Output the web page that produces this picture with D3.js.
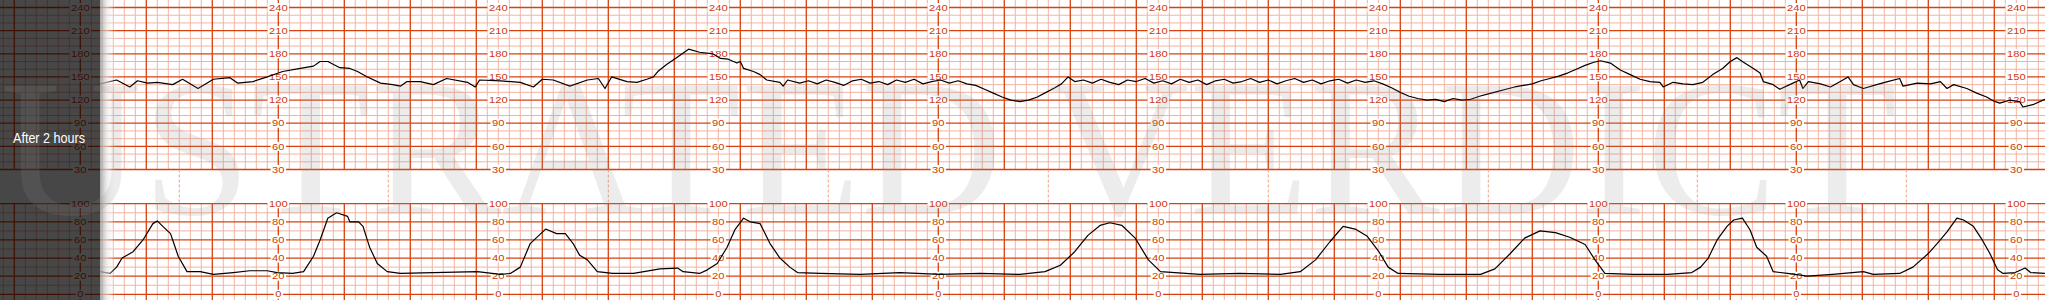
<!DOCTYPE html>
<html>
<head>
<meta charset="utf-8">
<script src="https://cdn.jsdelivr.net/npm/d3@7"></script>
<style>
  html, body { margin: 0; padding: 0; background: #fff; overflow: hidden; }
  svg { display: block; }
</style>
</head>
<body>
<div id="chart"></div>
<script>
// seconds along the strip where the scale labels are printed
var labelSec = [60, 240, 440, 640, 840, 1040, 1240, 1440, 1620, 1820];
var hrTicks = [240, 210, 180, 150, 120, 90, 60, 30];
var ucTicks = [100, 80, 60, 40, 20, 0];

// fetal heart rate (bpm)
var fhrSec = [78, 93, 105, 112, 121, 130, 144, 153, 167, 181, 196, 203, 217, 230, 244, 260, 272, 278, 285, 296, 305, 312, 321, 333, 344,
  351, 357, 369, 381, 393, 412, 419, 423, 442, 460, 472, 480, 490, 505, 521, 531, 537, 543, 557, 566, 575, 581, 585, 593, 601, 613, 623,
  635, 642, 649, 657, 660, 663, 672, 678, 684, 696, 699, 703, 714,
  722, 730, 738, 746, 754, 762, 770, 778, 786, 794, 802, 810, 818, 826, 834, 842, 850, 858, 866, 874, 882, 890, 898, 906, 914, 922,
  930, 938, 946, 952, 958, 964, 972, 980, 988, 996, 1004, 1012, 1020, 1028, 1036, 1044, 1052, 1060, 1068, 1076, 1084, 1092, 1100,
  1108, 1116, 1124, 1132, 1140, 1148, 1156, 1164, 1172, 1180, 1188, 1196, 1204, 1212, 1220, 1228, 1236, 1244, 1252, 1260, 1268, 1276,
  1284, 1292, 1300, 1308, 1316, 1324, 1332, 1340, 1348, 1356, 1364, 1372, 1380, 1388, 1396, 1404, 1412, 1420, 1428, 1436, 1442,
  1451, 1460, 1469, 1478, 1487, 1496, 1499, 1508, 1517, 1526, 1535, 1544, 1553, 1560, 1566, 1572, 1581, 1587, 1590,
  1599, 1605, 1614, 1623, 1626, 1631, 1642, 1651, 1660, 1667, 1672, 1681, 1693, 1703, 1714, 1717, 1730, 1742, 1751, 1757, 1763, 1775,
  1784, 1793, 1799, 1805, 1814, 1823, 1826, 1835, 1846];
var fhrBpm = [141, 146, 137, 145, 142, 143, 140, 147, 135, 147, 149, 142, 144, 150, 157, 161, 164, 170, 170, 162, 161, 157, 150, 142, 140,
  138, 144, 144, 140, 148, 143, 137, 146, 145, 143, 137, 147, 146, 138, 146, 148, 135, 150, 144, 143, 147, 150, 157, 166, 174, 186, 182,
  180, 174, 173, 168, 170, 161, 157, 153, 146, 143, 138, 146, 142,
  145, 141, 146, 143, 139, 145, 147, 142, 144, 140, 146, 143, 147, 141, 144, 146, 142, 145, 141, 139, 134, 129, 124, 120, 118, 120,
  124, 130, 136, 141, 150, 144, 146, 142, 147, 143, 140, 146, 144, 148, 142, 145, 141, 147, 143, 146, 140, 145, 147,
  142, 144, 148, 143, 146, 141, 145, 148, 143, 146, 141, 145, 147, 142, 146, 143, 145, 141, 136, 130, 125, 122,
  120, 121, 118, 122, 120, 121, 125, 128, 131, 134, 137, 139, 141, 145, 148, 151, 155, 160, 165, 169, 171,
  168, 159, 153, 147, 144, 143, 137, 143, 141, 140, 143, 153, 161, 170, 175, 169, 161, 155, 144,
  140, 134, 140, 146, 135, 144, 141, 137, 144, 150, 140, 135, 140, 144, 148, 138, 142, 141, 144, 135, 140, 135,
  129, 124, 119, 116, 120, 118, 111, 114, 121];

// uterine activity
var ucSec = [78, 87, 93, 98, 108, 117, 126, 130, 135, 142, 144, 149, 157, 169, 181, 199, 214, 230, 239, 253, 263, 272, 278, 285, 293,
  303, 305, 313, 317, 323, 330, 339, 351, 381, 421, 442, 451, 460, 469, 476, 483, 493, 501, 508, 514, 521, 530, 544, 563, 587, 603, 608,
  623, 630, 639, 648, 655, 663, 669, 678, 687, 696, 705, 712,
  733, 769, 805, 842, 878, 914, 937, 951, 964, 976, 987, 996, 1007, 1019, 1031, 1042, 1078, 1114, 1151, 1169, 1183, 1196, 1208, 1219,
  1230, 1240, 1249, 1258, 1296, 1333, 1346, 1360, 1373, 1387, 1401, 1414, 1428, 1437, 1446,
  1472, 1503, 1525, 1533, 1540, 1548, 1557, 1563, 1571, 1578, 1584, 1593, 1599, 1612, 1630, 1653, 1681, 1690, 1714, 1726, 1740, 1748,
  1757, 1766, 1772, 1781, 1789, 1796, 1803, 1808, 1819, 1828, 1833, 1846];
var ucVal = [25, 23, 30, 40, 47, 60, 78, 81, 75, 67, 60, 42, 25, 25, 22, 24, 26, 26, 24, 23, 25, 42, 60, 84, 90,
  86, 80, 80, 75, 52, 34, 25, 23, 24, 25, 22, 23, 30, 56, 64, 72, 67, 67, 56, 43, 38, 25, 23, 23, 28, 29, 25,
  23, 27, 34, 52, 71, 84, 80, 78, 56, 40, 30, 24,
  23, 22, 24, 22, 23, 22, 25, 32, 47, 65, 76, 79, 76, 62, 38, 25, 22, 23, 22, 25, 38, 58, 75, 72,
  64, 48, 30, 23, 22, 22, 28, 45, 62, 70, 68, 63, 55, 38, 23,
  22, 22, 24, 30, 40, 60, 75, 82, 84, 71, 52, 42, 25, 23, 20, 22, 25, 22, 23, 30, 45, 56,
  69, 84, 82, 75, 60, 45, 27, 23, 24, 29, 24, 23];

var width = 2045, height = 300;
var panelW = 100;

var x = d3.scaleLinear().domain([0, 60]).range([14.3, 80.3]);
var yHR = d3.scaleLinear().domain([30, 240]).range([169.5, 7.5]);
var yUC = d3.scaleLinear().domain([0, 100]).range([294.3, 203.7]);

var major = '#d9420f', minor = '#f4b3a0', labelCol = '#cf3a08';

var svg = d3.select('#chart')
  .append('svg')
    .attr('width', width)
    .attr('height', height)
    .attr('viewBox', '0 0 ' + width + ' ' + height);

var defs = svg.append('defs');
var grad = defs.append('linearGradient').attr('id', 'shade');
grad.append('stop').attr('offset', '0%').attr('stop-color', '#9a9a9a').attr('stop-opacity', 0.85);
grad.append('stop').attr('offset', '45%').attr('stop-color', '#e4e4e4').attr('stop-opacity', 0.6);
grad.append('stop').attr('offset', '100%').attr('stop-color', '#ffffff').attr('stop-opacity', 0);

var grid = svg.append('g').attr('class', 'grid');

// vertical lines every 10 s, heavier each minute
var secs = d3.range(-10, x.invert(width) + 10, 10);
[[0, yHR(30)], [yUC(100), height]].forEach(function (band) {
  grid.selectAll(null)
    .data(secs.filter(function (s) { return s % 60 !== 0; }))
    .enter().append('line')
      .attr('x1', function (s) { return x(s); })
      .attr('x2', function (s) { return x(s); })
      .attr('y1', band[0]).attr('y2', band[1])
      .attr('stroke', minor).attr('stroke-width', 1);
});

// horizontal minor lines
grid.selectAll(null)
  .data(d3.range(40, 241, 10).filter(function (v) { return v % 30 !== 0; }))
  .enter().append('line')
    .attr('x1', 0).attr('x2', width)
    .attr('y1', function (v) { return yHR(v); })
    .attr('y2', function (v) { return yHR(v); })
    .attr('stroke', minor).attr('stroke-width', 1);
grid.selectAll(null)
  .data(d3.range(10, 100, 20))
  .enter().append('line')
    .attr('x1', 0).attr('x2', width)
    .attr('y1', function (v) { return yUC(v); })
    .attr('y2', function (v) { return yUC(v); })
    .attr('stroke', minor).attr('stroke-width', 1);

// major lines
[[0, yHR(30)], [yUC(100), height]].forEach(function (band) {
  grid.selectAll(null)
    .data(secs.filter(function (s) { return s % 60 === 0; }))
    .enter().append('line')
      .attr('x1', function (s) { return x(s); })
      .attr('x2', function (s) { return x(s); })
      .attr('y1', band[0]).attr('y2', band[1])
      .attr('stroke', major).attr('stroke-width', 1.3);
});
grid.selectAll(null)
  .data(hrTicks)
  .enter().append('line')
    .attr('x1', 0).attr('x2', width)
    .attr('y1', function (v) { return yHR(v); })
    .attr('y2', function (v) { return yHR(v); })
    .attr('stroke', major).attr('stroke-width', 1.3);
grid.selectAll(null)
  .data(ucTicks)
  .enter().append('line')
    .attr('x1', 0).attr('x2', width)
    .attr('y1', function (v) { return yUC(v); })
    .attr('y2', function (v) { return yUC(v); })
    .attr('stroke', major).attr('stroke-width', 1.3);

// dashed marks in the gap between the two strips
var mids = d3.pairs(labelSec).map(function (p) { return (p[0] + p[1]) / 2; });
grid.selectAll(null)
  .data(mids)
  .enter().append('line')
    .attr('x1', function (s) { return x(s); })
    .attr('x2', function (s) { return x(s); })
    .attr('y1', yHR(30)).attr('y2', yUC(100))
    .attr('stroke', '#f0a286').attr('stroke-width', 1)
    .attr('stroke-dasharray', '3,2');

// scale labels
var labels = svg.append('g').attr('class', 'labels')
  .attr('font-family', 'Liberation Sans, Arial, sans-serif')
  .attr('font-size', 9);

function addLabels(ticks, scale) {
  labelSec.forEach(function (s) {
    var g = labels.selectAll(null)
      .data(ticks)
      .enter().append('g')
        .attr('transform', function (v) { return 'translate(' + x(s) + ',' + scale(v) + ')'; });
    g.append('rect')
      .attr('x', function (v) { return -String(v).length * 3.1 - 1.5; })
      .attr('y', -4.5)
      .attr('width', function (v) { return String(v).length * 6.2 + 3; })
      .attr('height', 9)
      .attr('fill', '#fff');
    g.append('text')
      .attr('text-anchor', 'middle')
      .attr('dy', '0.35em')
      .attr('fill', labelCol)
      .attr('textLength', function (v) { return String(v).length * 6.2; })
      .attr('lengthAdjust', 'spacingAndGlyphs')
      .text(function (v) { return v; });
  });
}
addLabels(hrTicks, yHR);
addLabels(ucTicks, yUC);

// traces
var fhr = fhrSec.map(function (s, i) { return [s, fhrBpm[i]]; });
var uc = ucSec.map(function (s, i) { return [s, ucVal[i]]; });

svg.append('path')
  .datum(fhr)
  .attr('fill', 'none')
  .attr('stroke', '#000')
  .attr('stroke-width', 1.2)
  .attr('stroke-linejoin', 'round')
  .attr('d', d3.line().x(function (d) { return x(d[0]); }).y(function (d) { return yHR(d[1]); }));

svg.append('path')
  .datum(uc)
  .attr('fill', 'none')
  .attr('stroke', '#000')
  .attr('stroke-width', 1.2)
  .attr('stroke-linejoin', 'round')
  .attr('d', d3.line().x(function (d) { return x(d[0]); }).y(function (d) { return yUC(d[1]); }));

// dark side panel
svg.append('rect')
  .attr('x', 0).attr('y', 0)
  .attr('width', panelW).attr('height', height)
  .attr('fill', '#000').attr('opacity', 0.72);
svg.append('rect')
  .attr('x', panelW).attr('y', 0)
  .attr('width', 16).attr('height', height)
  .attr('fill', 'url(#shade)');

// watermark
svg.append('text')
  .attr('x', 1897).attr('y', 214)
  .attr('text-anchor', 'end')
  .attr('font-family', 'Liberation Serif, Times New Roman, serif')
  .attr('font-size', 196)
  .attr('fill', '#8c8c8c')
  .attr('opacity', 0.16)
  .text('ILLUSTRATED VERDICT');

svg.append('text')
  .attr('x', 13).attr('y', 143)
  .attr('font-family', 'Liberation Sans Narrow, Arial Narrow, Liberation Sans, Arial, sans-serif')
  .attr('font-size', 14)
  .attr('fill', '#fff')
  .attr('textLength', 72)
  .attr('lengthAdjust', 'spacingAndGlyphs')
  .text('After 2 hours');
</script>
</body>
</html>
